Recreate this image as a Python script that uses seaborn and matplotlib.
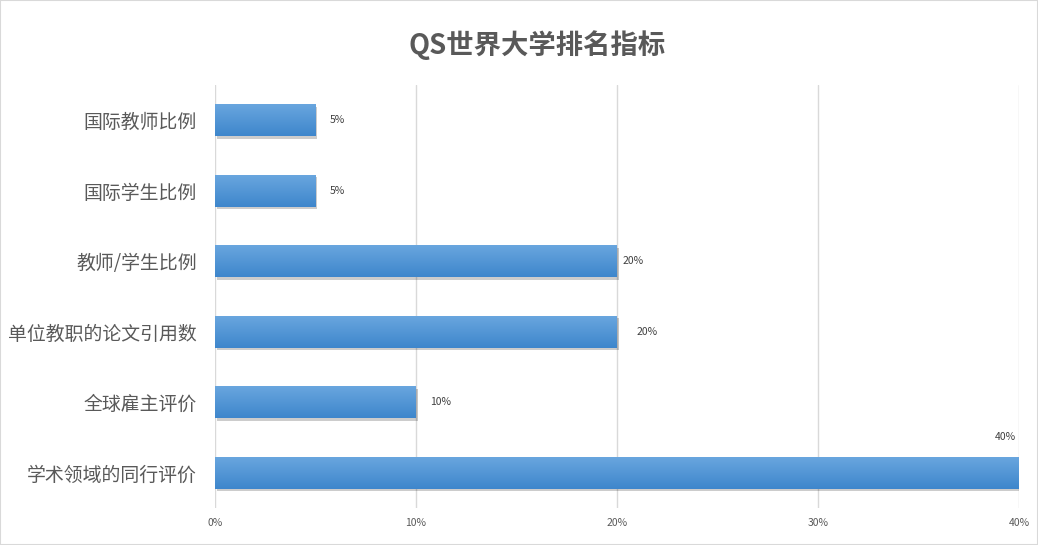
import numpy as np
import pandas as pd
import matplotlib
matplotlib.use('Agg')
import matplotlib.pyplot as plt
import matplotlib.transforms as mtransforms
from matplotlib.colors import LinearSegmentedColormap
import seaborn as sns

# data
categories = ['国际教师比例', '国际学生比例', '教师/学生比例', '单位教职的论文引用数', '全球雇主评价', '学术领域的同行评价']
weights = [5, 5, 20, 20, 10, 40]
value_labels = ['5%', '5%', '20%', '20%', '10%', '40%']
xticks = [0, 10, 20, 30, 40]
xtick_labels = ['0%', '10%', '20%', '30%', '40%']

df = pd.DataFrame({'category': categories, 'weight': weights})

sns.set_theme(style='white')
plt.rcParams['font.family'] = ['Noto Sans CJK SC', 'DejaVu Sans']

fig = plt.figure(figsize=(10.38, 5.45), dpi=100)
ax = fig.add_axes([215 / 1038, 37 / 545, 804 / 1038, 423 / 545])

sns.barplot(data=df, x='weight', y='category', orient='h', color='#5b9bd5',
            width=0.455, ax=ax, saturation=1)

# gradient fill + soft shadow on each bar
grad = LinearSegmentedColormap.from_list('bar', ['#3e86cc', '#6aa7df'])
for p in list(ax.patches):
    x0, y0 = p.get_x(), p.get_y()
    w, h = p.get_width(), p.get_height()
    shadow_tr = ax.transData + mtransforms.ScaledTranslation(1.5 / 100, -2.5 / 100, fig.dpi_scale_trans)
    sh = plt.Rectangle((x0, y0), w, h, transform=shadow_tr, facecolor='#000000',
                       alpha=0.2, edgecolor='none', zorder=1)
    ax.add_patch(sh)
    p.set_zorder(2)
    p.set_edgecolor('none')
    img = ax.imshow(np.linspace(0, 1, 50).reshape(-1, 1), cmap=grad, aspect='auto',
                    extent=(x0, x0 + w, y0 + h, y0), origin='lower', zorder=3)
    img.set_clip_path(p)

ax.set_xlim(0, 40)
ax.set_ylim(5.5, -0.5)
ax.set_xticks(xticks)
ax.set_xticklabels(xtick_labels, fontsize=7.5, color='#595959')
ax.tick_params(axis='y', labelsize=13.6, labelcolor='#595959', length=0, pad=13)
ax.tick_params(axis='x', length=0, pad=7)
ax.grid(axis='x', color='#d9d9d9', linewidth=1)
ax.set_axisbelow(True)
for s in ax.spines.values():
    s.set_visible(False)
ax.set_xlabel('')
ax.set_ylabel('')

# data labels
offsets = [(10, 0), (10, 0), (4, 0), (14, 0), (10, 0), (-10, 26)]
for i, (v, lab) in enumerate(zip(weights, value_labels)):
    ax.annotate(lab, xy=(v, i), xytext=offsets[i], textcoords='offset points',
                ha='left' if offsets[i][1] == 0 else 'center', va='center',
                fontsize=7.5, color='#404040', annotation_clip=False)

fig.suptitle('QS世界大学排名指标', x=0.517, y=0.945, fontsize=19.7, fontweight='bold', color='#595959')

# light frame around the chart
fig.patches.append(plt.Rectangle((0, 0), 1, 1, transform=fig.transFigure, fill=False,
                                 edgecolor='#d9d9d9', linewidth=1.5))

fig.savefig('out.png', dpi=100)
